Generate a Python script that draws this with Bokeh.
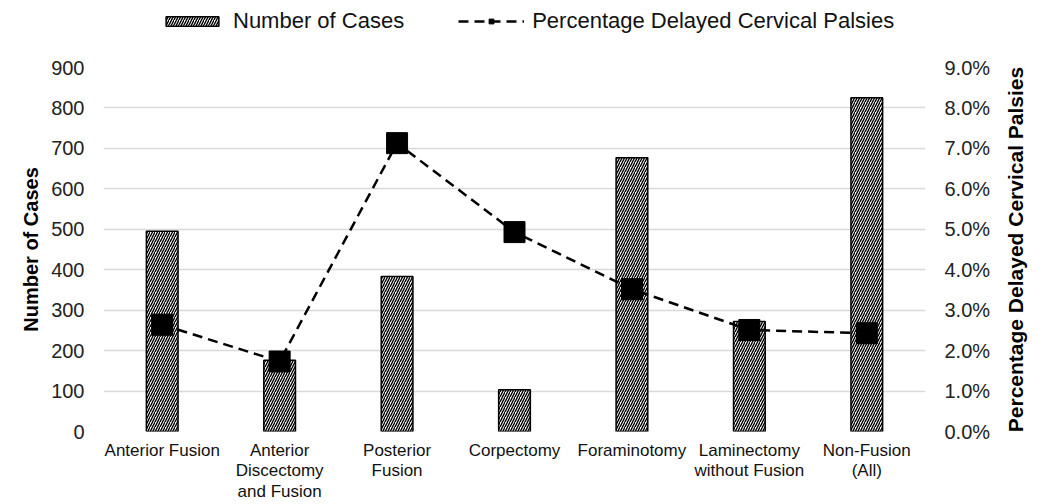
from bokeh.plotting import figure
from bokeh.layouts import column, row
from bokeh.models import (FactorRange, Range1d, LinearAxis, NumeralTickFormatter,
                          SingleIntervalTicker, FixedTicker, Legend, LegendItem)
from bokeh.embed import file_html
from bokeh.resources import INLINE

categories = ["Anterior Fusion", "Anterior\nDiscectomy\nand Fusion", "Posterior\nFusion",
              "Corpectomy", "Foraminotomy", "Laminectomy\nwithout Fusion", "Non-Fusion\n(All)"]
cases = [495, 176, 383, 103, 677, 272, 825]
pct_palsy = [0.0264, 0.0173, 0.0713, 0.0493, 0.0352, 0.0251, 0.0243]
left_title = "Number of Cases"
right_title = "Percentage Delayed Cervical Palsies"

FONT = "Liberation Sans"
BAR_STYLE = dict(width=0.27, fill_color="white", hatch_pattern="right_diagonal_line",
                 hatch_color="black", hatch_scale=5, hatch_weight=1.4,
                 line_color="black", line_width=1.5)
LINE_STYLE = dict(line_color="black", line_width=2.5, line_dash="10 6")
MARK_STYLE = dict(marker="square", size=21, fill_color="black", line_color="black")


def draw(fig, yname):
    b = fig.vbar(x=categories, top=cases, **BAR_STYLE)
    l = fig.line(x=categories, y=pct_palsy, y_range_name=yname, **LINE_STYLE)
    s = fig.scatter(x=categories, y=pct_palsy, y_range_name=yname, **MARK_STYLE)
    return b, l, s


def plain_axis(ax):
    ax.axis_line_color = None
    ax.major_tick_line_color = None
    ax.minor_tick_line_color = None
    ax.major_tick_out = 0
    ax.minor_tick_out = 0


# ---------- main chart ----------
p = figure(width=1000, height=457, x_range=FactorRange(*categories), y_range=Range1d(0, 900),
           output_backend="svg", toolbar_location=None,
           min_border_left=103, min_border_right=75, min_border_top=20, min_border_bottom=72)
p.outline_line_color = None
p.extra_y_ranges = {"pct": Range1d(0, 0.09)}
draw(p, "pct")

ya = p.yaxis[0]
ya.ticker = SingleIntervalTicker(interval=100)
ya.axis_label = left_title
ya.axis_label_text_font = FONT
ya.axis_label_text_font_style = "bold"
ya.axis_label_text_font_size = "20px"
ya.axis_label_text_color = "black"
ya.axis_label_standoff = 6
ya.major_label_text_font = FONT
ya.major_label_text_font_size = "20px"
ya.major_label_text_color = "#222222"
ya.major_label_standoff = 19
plain_axis(ya)

ra = LinearAxis(y_range_name="pct", ticker=SingleIntervalTicker(interval=0.01),
                formatter=NumeralTickFormatter(format="0.0%"))
ra.major_label_text_font = FONT
ra.major_label_text_font_size = "20px"
ra.major_label_text_color = "#222222"
ra.major_label_standoff = 19
plain_axis(ra)
p.add_layout(ra, "right")

xa = p.xaxis[0]
xa.major_label_text_font = FONT
xa.major_label_text_font_size = "17px"
xa.major_label_text_line_height = 1.1
xa.major_label_text_color = "#111111"
xa.major_label_standoff = 9
plain_axis(xa)

p.xgrid.grid_line_color = None
p.ygrid.grid_line_color = "#d9d9d9"
p.ygrid.grid_line_width = 1.5
p.ygrid.ticker = SingleIntervalTicker(interval=100)

# ---------- right-hand axis title strip (reads bottom to top) ----------
side = figure(width=47, height=457, y_range=Range1d(0, 0.09), x_range=Range1d(0, 1),
              output_backend="svg", toolbar_location=None, x_axis_type=None,
              min_border_left=32, min_border_right=0, min_border_top=20, min_border_bottom=72)
side.outline_line_color = None
side.grid.grid_line_color = None
sa = side.yaxis[0]
sa.ticker = FixedTicker(ticks=[])
sa.axis_label = right_title
sa.axis_label_text_font = FONT
sa.axis_label_text_font_style = "bold"
sa.axis_label_text_font_size = "21px"
sa.axis_label_text_color = "black"
sa.axis_label_standoff = 7
sa.major_label_standoff = 0
plain_axis(sa)

# ---------- legend strip (same series, renderers hidden, only their legend glyphs shown) ----------
lg = figure(width=1047, height=47, x_range=FactorRange(*categories), y_range=Range1d(2000, 2001),
            output_backend="svg", toolbar_location=None, x_axis_type=None, y_axis_type=None,
            min_border_left=103, min_border_right=122, min_border_top=0, min_border_bottom=0)
lg.outline_line_color = None
lg.extra_y_ranges = {"pct": Range1d(2000, 2001)}
lb, ll, ls = draw(lg, "pct")
for r in (lb, ll, ls):
    r.visible = False
legend = Legend(items=[LegendItem(label="Number of Cases", renderers=[lb]),
                       LegendItem(label="Percentage Delayed Cervical Palsies", renderers=[ll, ls])],
                orientation="horizontal", location=(56, 13), padding=0, margin=0,
                spacing=54, glyph_width=66, glyph_height=12, label_height=24, label_standoff=8,
                label_text_font=FONT, label_text_font_size="22px", label_text_color="#111111",
                border_line_color=None, background_fill_alpha=0, click_policy="none")
lg.add_layout(legend, "center")

layout = column(lg, row(p, side, spacing=0), spacing=0)
open("out.html", "w").write(file_html(layout, INLINE))
